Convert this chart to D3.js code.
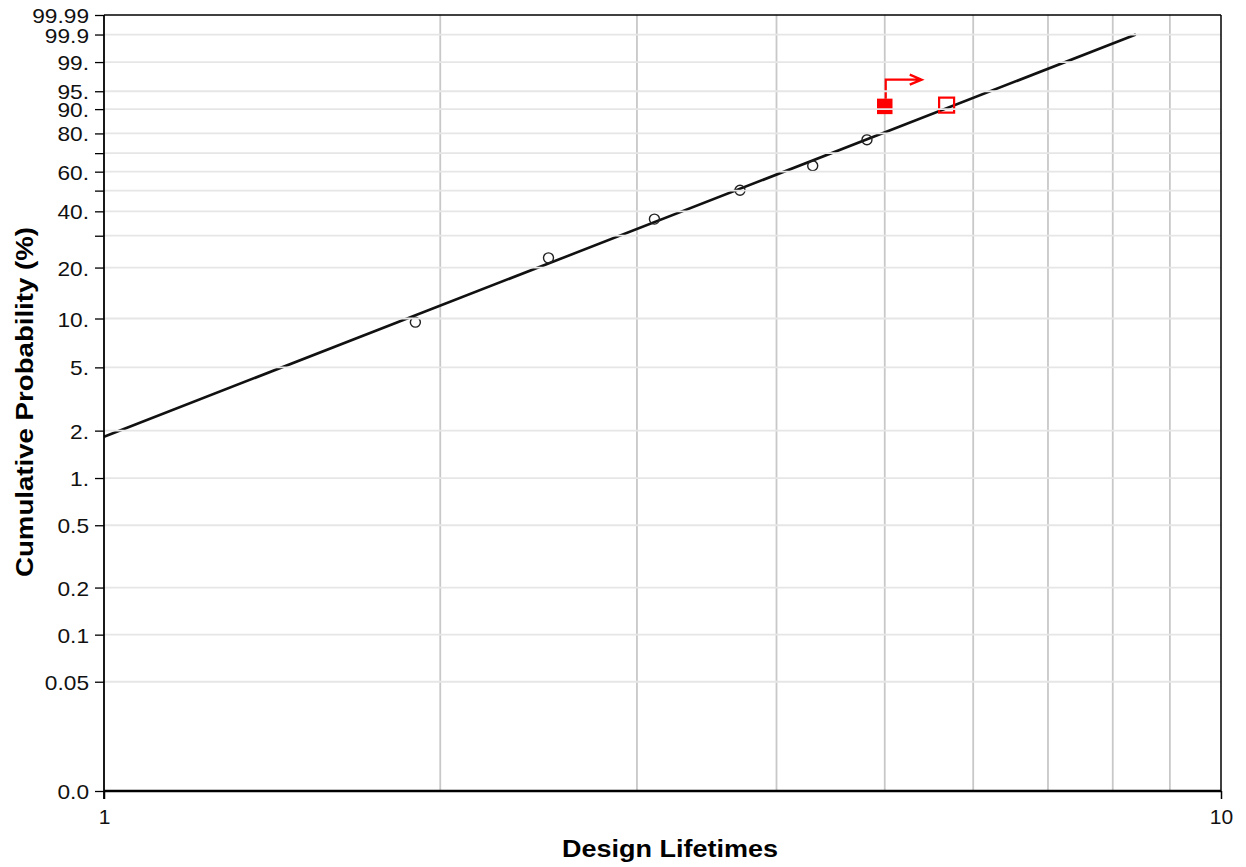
<!DOCTYPE html>
<html>
<head>
<meta charset="utf-8">
<script src="https://cdn.jsdelivr.net/npm/d3@7"></script>
<style>
  html, body { margin: 0; padding: 0; background: #fff; }
  svg { display: block; font-family: "Liberation Sans", Arial, sans-serif; }
</style>
</head>
<body>
<svg id="chart" width="1246" height="867"></svg>
<script>
// ---------------- data ----------------
const probTicks  = [99.99, 99.9, 99, 95, 90, 80, 70, 60, 50, 40, 30, 20, 10, 5, 2, 1, 0.5, 0.2, 0.1, 0.05, 0.01];
const probLabels = ["99.99", "99.9", "99.", "95.", "90.", "80.", "", "60.", "", "40.", "", "20.", "10.", "5.", "2.", "1.", "0.5", "0.2", "0.1", "0.05", "0.0"];
const timeTicks  = [1, 10];
const timeLabels = ["1", "10"];
const timeGrid   = [2, 3, 4, 5, 6, 7, 8, 9];

const failureTimes = [1.90, 2.50, 3.11, 3.71, 4.31, 4.82];
const failureProbs = [9.5, 22.7, 36.6, 50.2, 63.2, 76.9];

const suspensionTimes = [5.00];
const suspensionProbs = [90.9];

const openSquareTimes = [5.68];
const openSquareProbs = [91.3];

const fitTimes = [1, 8.39];
const fitProbs = [1.83, 99.9];

const xTitle = "Design Lifetimes";
const yTitle = "Cumulative Probability (%)";

// ---------------- layout ----------------
const L = 104, R = 1221, T = 15, B = 791;
const svg = d3.select("#chart");

const weib = p => Math.log(-Math.log(1 - p / 100));
const x = d3.scaleLog().domain([1, 10]).range([L, R]);
const yW = d3.scaleLinear().domain([weib(0.01), weib(99.99)]).range([B, T]);
const y = p => yW(weib(p));

// vertical grid
svg.append("g").selectAll("line").data(timeGrid).join("line")
  .attr("x1", d => x(d)).attr("x2", d => x(d))
  .attr("y1", T).attr("y2", B)
  .attr("stroke", "#c8c8c8").attr("stroke-width", 1.8);

// fit line
const fitData = fitTimes.map((t, i) => ({ t, p: fitProbs[i] }));
svg.append("path").datum(fitData)
  .attr("d", d3.line().x(d => x(d.t)).y(d => y(d.p)))
  .attr("fill", "none").attr("stroke", "#111").attr("stroke-width", 2.6);

// failure points
svg.append("g").selectAll("circle").data(failureTimes.map((t, i) => ({ t, p: failureProbs[i] })))
  .join("circle")
  .attr("cx", d => x(d.t)).attr("cy", d => y(d.p)).attr("r", 5)
  .attr("fill", "none").attr("stroke", "#222").attr("stroke-width", 1.4);

// suspension (filled red square + arrow)
const sq = 15.5;
const susp = suspensionTimes.map((t, i) => ({ t, p: suspensionProbs[i] }));
const sg = svg.append("g");
sg.selectAll("rect").data(susp).join("rect")
  .attr("x", d => x(d.t) - sq / 2).attr("y", d => y(d.p) - sq / 2)
  .attr("width", sq).attr("height", sq)
  .attr("fill", "#ff0000");
sg.selectAll("path.arrow").data(susp).join("path").attr("class", "arrow")
  .attr("d", d => {
    const cx = x(d.t) + 1, top = y(d.p) - sq / 2, ay = top - 19, ex = cx + 36;
    return `M${cx},${top} L${cx},${ay} L${ex},${ay} M${ex - 12},${ay - 5} L${ex},${ay} L${ex - 12},${ay + 5}`;
  })
  .attr("fill", "none").attr("stroke", "#ff0000").attr("stroke-width", 2.2);

// open red square
svg.append("g").selectAll("rect").data(openSquareTimes.map((t, i) => ({ t, p: openSquareProbs[i] })))
  .join("rect")
  .attr("x", d => x(d.t) - 7.5).attr("y", d => y(d.p) - 7.5)
  .attr("width", 15).attr("height", 15)
  .attr("fill", "none").attr("stroke", "#ff0000").attr("stroke-width", 2.2);

// horizontal grid (drawn on top, as in reference)
svg.append("g").selectAll("line").data(probTicks.slice(1, -1)).join("line")
  .attr("x1", L).attr("x2", R)
  .attr("y1", d => y(d)).attr("y2", d => y(d))
  .attr("stroke", "#e6e6e6").attr("stroke-width", 1.8);

// frame
svg.append("line").attr("x1", L).attr("x2", R).attr("y1", T).attr("y2", T)
  .attr("stroke", "#000").attr("stroke-width", 1.5);
svg.append("line").attr("x1", R).attr("x2", R).attr("y1", T).attr("y2", B)
  .attr("stroke", "#000").attr("stroke-width", 1.5);

// y axis
const yAxis = d3.axisLeft(yW)
  .tickValues(probTicks.map(weib))
  .tickFormat((d, i) => probLabels[i])
  .tickSize(9).tickPadding(6);
const ya = svg.append("g").attr("transform", `translate(${L},0)`).call(yAxis);
ya.select(".domain").attr("stroke", "#000").attr("stroke-width", 1.8)
  .attr("d", `M0,${T}V${B + 8}`);
ya.selectAll(".tick line").attr("stroke", "#000").attr("stroke-width", 1.3);
ya.selectAll(".tick text")
  .attr("font-family", "Liberation Sans, Arial, sans-serif")
  .attr("font-size", 21).attr("fill", "#111").attr("dy", "0.36em");

// x axis
const xAxis = d3.axisBottom(x).tickValues(timeTicks)
  .tickFormat((d, i) => timeLabels[i]).tickSize(8).tickPadding(10);
const xa = svg.append("g").attr("transform", `translate(0,${B})`).call(xAxis);
xa.select(".domain").attr("stroke", "#000").attr("stroke-width", 2.6)
  .attr("d", `M${L},0H${R}`);
xa.selectAll(".tick line").attr("stroke", "#000").attr("stroke-width", 1.5);
xa.selectAll(".tick text")
  .attr("font-family", "Liberation Sans, Arial, sans-serif")
  .attr("font-size", 21).attr("fill", "#111");

// widen tick labels slightly to match reference glyph widths
ya.selectAll(".tick text").each(function () {
  const w = this.getComputedTextLength();
  if (w > 0) d3.select(this).attr("textLength", w * 1.08).attr("lengthAdjust", "spacingAndGlyphs");
});

// titles
svg.append("text")
  .attr("x", 670).attr("y", 857)
  .attr("text-anchor", "middle")
  .attr("font-size", 23).attr("font-weight", "bold").attr("fill", "#000")
  .attr("textLength", 216).attr("lengthAdjust", "spacingAndGlyphs")
  .text(xTitle);

svg.append("text")
  .attr("transform", "translate(33,402) rotate(-90)")
  .attr("text-anchor", "middle")
  .attr("font-size", 23).attr("font-weight", "bold").attr("fill", "#000")
  .attr("textLength", 350).attr("lengthAdjust", "spacingAndGlyphs")
  .text(yTitle);
</script>
</body>
</html>
